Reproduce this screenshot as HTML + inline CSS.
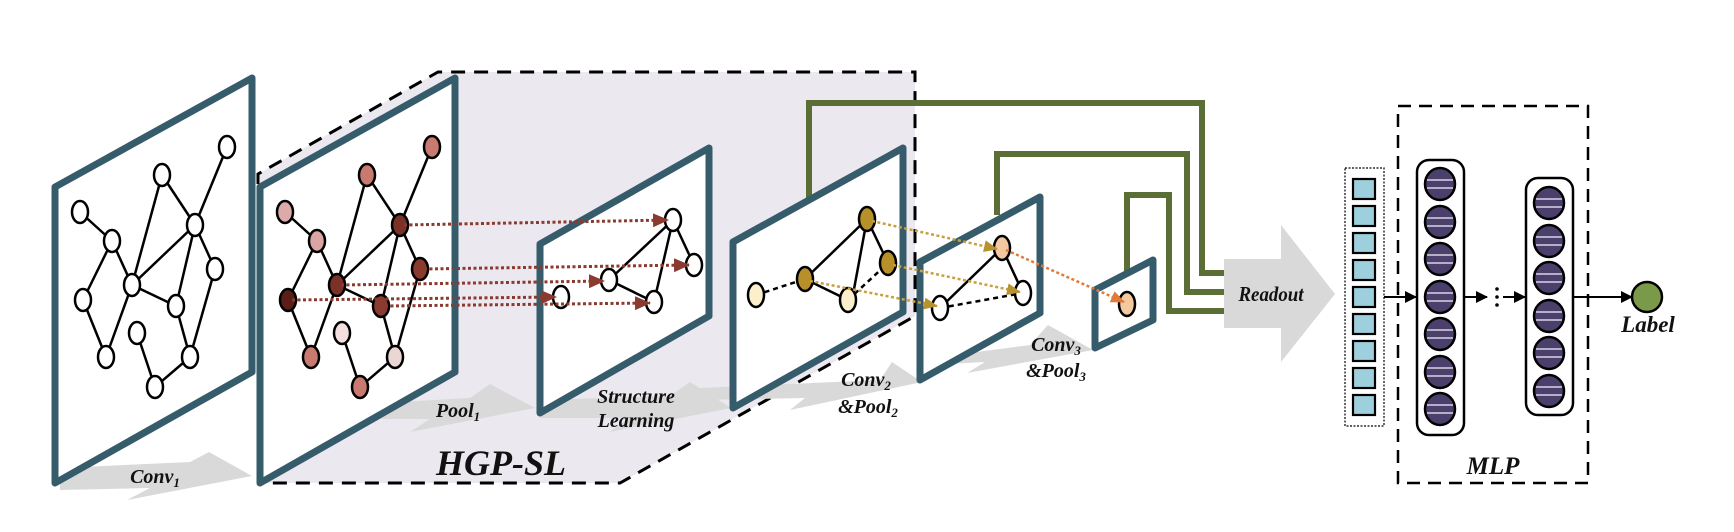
<!DOCTYPE html>
<html><head><meta charset="utf-8"><style>
html,body{margin:0;padding:0;background:#fff}
svg{display:block}
text{font-family:"Liberation Serif",serif;font-weight:bold;font-style:italic;fill:#111}
</style></head><body>
<svg width="1734" height="532" viewBox="0 0 1734 532" xmlns="http://www.w3.org/2000/svg">
<defs>
<marker id="mr" markerWidth="8" markerHeight="8" refX="7" refY="4" orient="auto" markerUnits="userSpaceOnUse"><path d="M0,0 L8,4 L0,8Z" fill="#8b3a30"/></marker>
<marker id="mg" markerWidth="14" markerHeight="12" refX="13" refY="6" orient="auto" markerUnits="userSpaceOnUse"><path d="M0,0 L14,6 L0,12Z" fill="#b8922e"/></marker>
<marker id="mo" markerWidth="14" markerHeight="12" refX="13" refY="6" orient="auto" markerUnits="userSpaceOnUse"><path d="M0,0 L14,6 L0,12Z" fill="#e07a3a"/></marker>
<marker id="mk" markerWidth="12" markerHeight="12" refX="11" refY="6" orient="auto" markerUnits="userSpaceOnUse"><path d="M0,0 L12,6 L0,12Z" fill="#000"/></marker>
<marker id="mrb" markerWidth="16" markerHeight="14" refX="15" refY="7" orient="auto" markerUnits="userSpaceOnUse"><path d="M0,0 L16,7 L0,14Z" fill="#8b3a30"/></marker>
</defs>

<!-- HGP-SL shaded region -->
<polygon points="258,174 438,72 915,72 915,316 620,483 258,483" fill="#ebe8f0"/>
<polyline points="258,483 258,174 438,72 915,72 915,316 620,483 258,483" fill="none" stroke="#000" stroke-width="3" stroke-dasharray="14 9"/>

<!-- gray arrows -->
<g fill="#d9d9d9">
<polygon points="60,468 190,462 209,452 252,476 127,500 150,488 60,490"/>
<polygon points="382,403 470,398 490,384 535,408 410,432 430,419 382,419"/>
<polygon points="540,400 670,396 690,382 731,408 609,432 630,418 540,418"/>
<polygon points="700,388 880,380 892,362 922,382 790,410 805,398 700,400"/>
<polygon points="930,358 1030,345 1048,325 1093,350 967,373 985,362 930,365"/>
</g>

<!-- green connectors -->
<g fill="none" stroke="#5a6e35" stroke-width="6">
<polyline points="809,210 809,103 1202,103 1202,273 1224,273"/>
<polyline points="997,215 997,154 1187,154 1187,292 1224,292"/>
<polyline points="1127,285 1127,195 1169,195 1169,311 1224,311"/>
</g>

<!-- Panel 1 -->
<polygon points="55,187 252,78 252,372 55,483" fill="#fff" stroke="#365c6b" stroke-width="7" stroke-linejoin="round"/>
<g stroke="#000" stroke-width="2.5">
<line x1="80" y1="212" x2="112" y2="241"/><line x1="112" y1="241" x2="83" y2="300"/><line x1="112" y1="241" x2="132" y2="285"/>
<line x1="83" y1="300" x2="106" y2="357"/><line x1="106" y1="357" x2="132" y2="285"/><line x1="132" y1="285" x2="162" y2="175"/>
<line x1="132" y1="285" x2="195" y2="225"/><line x1="132" y1="285" x2="176" y2="306"/><line x1="162" y1="175" x2="195" y2="225"/>
<line x1="227" y1="147" x2="195" y2="225"/><line x1="195" y1="225" x2="215" y2="269"/><line x1="195" y1="225" x2="176" y2="306"/>
<line x1="215" y1="269" x2="190" y2="357"/><line x1="176" y1="306" x2="190" y2="357"/><line x1="137" y1="333" x2="155" y2="387"/><line x1="155" y1="387" x2="190" y2="357"/>
</g>
<g fill="#fff" stroke="#000" stroke-width="2.5">
<ellipse cx="227" cy="147" rx="8" ry="11"/><ellipse cx="162" cy="175" rx="8" ry="11"/><ellipse cx="80" cy="212" rx="8" ry="11"/>
<ellipse cx="195" cy="225" rx="8" ry="11"/><ellipse cx="112" cy="241" rx="8" ry="11"/><ellipse cx="215" cy="269" rx="8" ry="11"/>
<ellipse cx="132" cy="285" rx="8" ry="11"/><ellipse cx="83" cy="300" rx="8" ry="11"/><ellipse cx="176" cy="306" rx="8" ry="11"/>
<ellipse cx="137" cy="333" rx="8" ry="11"/><ellipse cx="106" cy="357" rx="8" ry="11"/><ellipse cx="190" cy="357" rx="8" ry="11"/>
<ellipse cx="155" cy="387" rx="8" ry="11"/>
</g>

<!-- Panel 2 -->
<polygon points="260,187 455,78 455,372 260,483" fill="#fff" stroke="#365c6b" stroke-width="7" stroke-linejoin="round"/>
<g transform="translate(205,0)">
<g stroke="#000" stroke-width="2.5">
<line x1="80" y1="212" x2="112" y2="241"/><line x1="112" y1="241" x2="83" y2="300"/><line x1="112" y1="241" x2="132" y2="285"/>
<line x1="83" y1="300" x2="106" y2="357"/><line x1="106" y1="357" x2="132" y2="285"/><line x1="132" y1="285" x2="162" y2="175"/>
<line x1="132" y1="285" x2="195" y2="225"/><line x1="132" y1="285" x2="176" y2="306"/><line x1="162" y1="175" x2="195" y2="225"/>
<line x1="227" y1="147" x2="195" y2="225"/><line x1="195" y1="225" x2="215" y2="269"/><line x1="195" y1="225" x2="176" y2="306"/>
<line x1="215" y1="269" x2="190" y2="357"/><line x1="176" y1="306" x2="190" y2="357"/><line x1="137" y1="333" x2="155" y2="387"/><line x1="155" y1="387" x2="190" y2="357"/>
</g>
<g stroke="#000" stroke-width="2.5">
<ellipse cx="227" cy="147" rx="8" ry="11" fill="#c97a70"/><ellipse cx="162" cy="175" rx="8" ry="11" fill="#c97a70"/><ellipse cx="80" cy="212" rx="8" ry="11" fill="#dcaaa8"/>
<ellipse cx="195" cy="225" rx="8" ry="11" fill="#7a3228"/><ellipse cx="112" cy="241" rx="8" ry="11" fill="#d9a6a4"/><ellipse cx="215" cy="269" rx="8" ry="11" fill="#8b3a30"/>
<ellipse cx="132" cy="285" rx="8" ry="11" fill="#7a3228"/><ellipse cx="83" cy="300" rx="8" ry="11" fill="#5a1e1a"/><ellipse cx="176" cy="306" rx="8" ry="11" fill="#8b3a30"/>
<ellipse cx="137" cy="333" rx="8" ry="11" fill="#f3e0de"/><ellipse cx="106" cy="357" rx="8" ry="11" fill="#c97a70"/><ellipse cx="190" cy="357" rx="8" ry="11" fill="#ecd6d4"/>
<ellipse cx="155" cy="387" rx="8" ry="11" fill="#c97a70"/>
</g>
</g>

<!-- Panel 3 -->
<polygon points="540,244 709,148 709,316 540,413" fill="#fff" stroke="#365c6b" stroke-width="7" stroke-linejoin="round"/>
<g stroke="#000" stroke-width="2.5">
<line x1="673" y1="220" x2="609" y2="280"/><line x1="673" y1="220" x2="654" y2="302"/><line x1="673" y1="220" x2="694" y2="265"/><line x1="609" y1="280" x2="654" y2="302"/>
</g>
<g fill="#fff" stroke="#000" stroke-width="2.5">
<ellipse cx="673" cy="220" rx="8" ry="11"/><ellipse cx="694" cy="265" rx="8" ry="11"/><ellipse cx="609" cy="280" rx="8" ry="11"/>
<ellipse cx="561" cy="297" rx="8" ry="11"/><ellipse cx="654" cy="302" rx="8" ry="11"/>
</g>
<!-- red dotted arrows -->
<g stroke="#8b3a30" stroke-width="3" stroke-dasharray="3 2.5" fill="none">
<line x1="404" y1="225" x2="668" y2="220" marker-end="url(#mrb)"/>
<line x1="424" y1="269" x2="689" y2="265" marker-end="url(#mrb)"/>
<line x1="341" y1="285" x2="604" y2="281" marker-end="url(#mrb)"/>
<line x1="292" y1="300" x2="556" y2="297" marker-end="url(#mrb)"/>
<line x1="385" y1="306" x2="650" y2="303" marker-end="url(#mrb)"/>
</g>

<!-- Panel 4 -->
<polygon points="733,242 903,148 903,312 733,408" fill="#fff" stroke="#365c6b" stroke-width="7" stroke-linejoin="round"/>
<g stroke="#000" stroke-width="2.5">
<line x1="756" y1="295" x2="805" y2="279" stroke-dasharray="5 4"/>
<line x1="805" y1="279" x2="867" y2="219"/><line x1="805" y1="279" x2="848" y2="300"/>
<line x1="867" y1="219" x2="888" y2="263"/><line x1="867" y1="219" x2="852" y2="300"/>
<line x1="848" y1="300" x2="888" y2="263" stroke-dasharray="5 4"/>
</g>
<g stroke="#000" stroke-width="2.5">
<ellipse cx="756" cy="295" rx="8" ry="12" fill="#fbefcc"/><ellipse cx="805" cy="279" rx="8" ry="12" fill="#b8902a"/>
<ellipse cx="848" cy="300" rx="8" ry="12" fill="#fbefcc"/><ellipse cx="867" cy="219" rx="8" ry="12" fill="#b8902a"/>
<ellipse cx="888" cy="263" rx="8" ry="12" fill="#b8902a"/>
</g>

<!-- Panel 5 -->
<polygon points="920,262 1040,197 1040,313 920,380" fill="#fff" stroke="#365c6b" stroke-width="7" stroke-linejoin="round"/>
<g stroke="#000" stroke-width="2.5">
<line x1="1002" y1="248" x2="940" y2="308"/><line x1="1002" y1="248" x2="1023" y2="293"/>
<line x1="940" y1="308" x2="1023" y2="293" stroke-dasharray="5 4"/>
</g>
<g stroke="#000" stroke-width="2.5">
<ellipse cx="1002" cy="248" rx="8" ry="12" fill="#f5c9a0"/><ellipse cx="1023" cy="293" rx="8" ry="12" fill="#fff"/><ellipse cx="940" cy="308" rx="8" ry="12" fill="#fff"/>
</g>
<!-- gold arrows -->
<g stroke="#c8a040" stroke-width="2.5" stroke-dasharray="3 2.5" fill="none">
<line x1="872" y1="221" x2="997" y2="249" marker-end="url(#mg)"/>
<line x1="893" y1="265" x2="1020" y2="292" marker-end="url(#mg)"/>
<line x1="810" y1="281" x2="937" y2="306" marker-end="url(#mg)"/>
</g>

<!-- Panel 6 -->
<polygon points="1095,290 1153,260 1153,320 1095,348" fill="#fff" stroke="#365c6b" stroke-width="7" stroke-linejoin="round"/>
<ellipse cx="1127" cy="304" rx="8" ry="12" fill="#f5c9a0" stroke="#000" stroke-width="2.5"/>
<line x1="1006" y1="250" x2="1124" y2="302" stroke="#e07a3a" stroke-width="2.5" stroke-dasharray="3 2.5" marker-end="url(#mo)"/>

<!-- Readout arrow -->
<polygon points="1224,259 1281,259 1281,225 1335,294 1281,362 1281,328 1224,328" fill="#d9d9d9"/>
<text x="1271" y="301" font-size="21" text-anchor="middle" transform="translate(1271,0) scale(0.9,1) translate(-1271,0)">Readout</text>

<!-- feature vector -->
<rect x="1345" y="168" width="39" height="258" fill="#fff" stroke="#000" stroke-width="1.2" stroke-dasharray="2 1.5"/>
<g fill="#9ecfdc" stroke="#000" stroke-width="2.2">
<rect x="1353" y="179" width="22" height="20"/><rect x="1353" y="206" width="22" height="20"/><rect x="1353" y="233" width="22" height="20"/>
<rect x="1353" y="260" width="22" height="20"/><rect x="1353" y="287" width="22" height="20"/><rect x="1353" y="314" width="22" height="20"/>
<rect x="1353" y="341" width="22" height="20"/><rect x="1353" y="368" width="22" height="20"/><rect x="1353" y="395" width="22" height="20"/>
</g>

<!-- MLP -->
<rect x="1398" y="106" width="190" height="377" fill="none" stroke="#000" stroke-width="2.5" stroke-dasharray="13 8"/>
<text x="1493" y="474" font-size="25" text-anchor="middle">MLP</text>
<line x1="1384" y1="297" x2="1416" y2="297" stroke="#000" stroke-width="2" marker-end="url(#mk)"/>
<rect x="1417" y="160" width="47" height="275" rx="12" fill="#fff" stroke="#000" stroke-width="2.5"/>
<rect x="1526" y="178" width="47" height="237" rx="12" fill="#fff" stroke="#000" stroke-width="2.5"/>
<g id="c1">
<g stroke="#000" stroke-width="2.5" fill="#4b3f6b">
<ellipse cx="1440" cy="184" rx="15" ry="16"/><ellipse cx="1440" cy="222" rx="15" ry="16"/><ellipse cx="1440" cy="259" rx="15" ry="16"/>
<ellipse cx="1440" cy="297" rx="15" ry="16"/><ellipse cx="1440" cy="334" rx="15" ry="16"/><ellipse cx="1440" cy="372" rx="15" ry="16"/>
<ellipse cx="1440" cy="409" rx="15" ry="16"/>
<ellipse cx="1549" cy="203" rx="15" ry="16"/><ellipse cx="1549" cy="241" rx="15" ry="16"/><ellipse cx="1549" cy="278" rx="15" ry="16"/>
<ellipse cx="1549" cy="316" rx="15" ry="16"/><ellipse cx="1549" cy="353" rx="15" ry="16"/><ellipse cx="1549" cy="391" rx="15" ry="16"/>
</g>
<g stroke="#d8d4e4" stroke-width="1.5">
<path d="M1427,180h26M1427,188h26M1427,218h26M1427,226h26M1427,255h26M1427,263h26M1427,293h26M1427,301h26M1427,330h26M1427,338h26M1427,368h26M1427,376h26M1427,405h26M1427,413h26"/>
<path d="M1536,199h26M1536,207h26M1536,237h26M1536,245h26M1536,274h26M1536,282h26M1536,312h26M1536,320h26M1536,349h26M1536,357h26M1536,387h26M1536,395h26"/>
</g>
</g>
<line x1="1464" y1="297" x2="1487" y2="297" stroke="#000" stroke-width="2" marker-end="url(#mk)"/>
<g fill="#000"><circle cx="1497" cy="289" r="1.8"/><circle cx="1497" cy="297" r="1.8"/><circle cx="1497" cy="305" r="1.8"/></g>
<line x1="1503" y1="297" x2="1525" y2="297" stroke="#000" stroke-width="2" marker-end="url(#mk)"/>
<line x1="1573" y1="297" x2="1632" y2="297" stroke="#000" stroke-width="2" marker-end="url(#mk)"/>
<circle cx="1647" cy="297" r="15" fill="#7a9a4a" stroke="#000" stroke-width="2.5"/>
<text x="1648" y="332" font-size="23" text-anchor="middle">Label</text>

<!-- labels -->
<text x="155" y="483" font-size="20" text-anchor="middle">Conv<tspan font-size="13" dy="4">1</tspan></text>
<text x="458" y="417" font-size="20" text-anchor="middle">Pool<tspan font-size="13" dy="4">1</tspan></text>
<text x="636" y="403" font-size="20" text-anchor="middle">Structure</text>
<text x="636" y="427" font-size="20" text-anchor="middle">Learning</text>
<text x="866" y="386" font-size="20" text-anchor="middle">Conv<tspan font-size="13" dy="4">2</tspan></text>
<text x="868" y="413" font-size="20" text-anchor="middle">&amp;Pool<tspan font-size="13" dy="4">2</tspan></text>
<text x="1056" y="351" font-size="20" text-anchor="middle">Conv<tspan font-size="13" dy="4">3</tspan></text>
<text x="1056" y="377" font-size="20" text-anchor="middle">&amp;Pool<tspan font-size="13" dy="4">3</tspan></text>
<text x="501" y="475" font-size="36" text-anchor="middle">HGP-SL</text>
</svg>
</body></html>
